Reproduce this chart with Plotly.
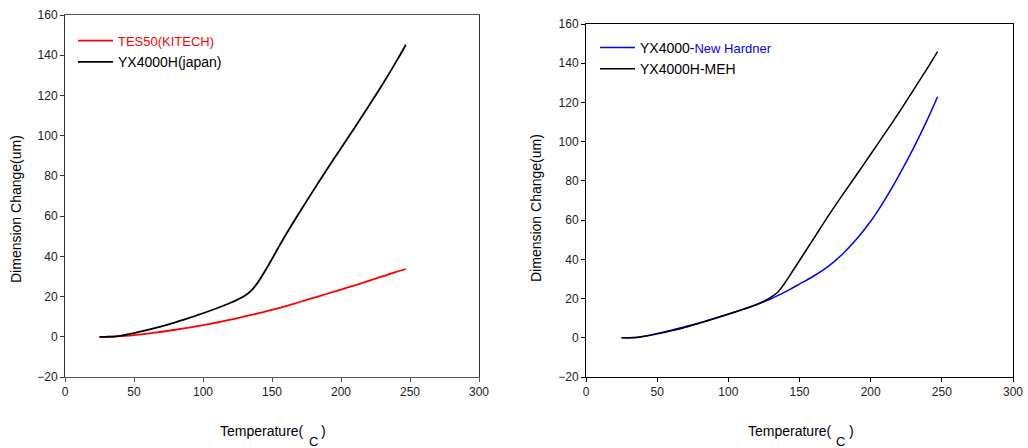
import plotly.graph_objects as go

# ---- data ----
temp_left = [25, 30, 35, 40, 50, 60, 70, 80, 90, 100, 110, 120, 125, 130, 135, 140, 145,
             150, 155, 160, 170, 180, 190, 200, 210, 220, 230, 240, 247]
tes50_kitech = [0, 0, 0.1, 0.3, 0.8, 1.6, 2.5, 3.5, 4.6, 5.8, 7.1, 8.5, 9.3, 10.1, 10.9, 11.7, 12.5,
                13.4, 14.3, 15.2, 17.3, 19.3, 21.4, 23.5, 25.6, 27.8, 30.0, 32.3, 33.7]
yx4000h_japan = [0, 0, 0.1, 0.5, 1.8, 3.4, 5.2, 7.2, 9.4, 11.7, 14.2, 16.9, 18.5, 20.3, 23.0, 27.3, 32.8,
                 38.7, 44.8, 50.7, 61.9, 72.8, 83.4, 93.8, 104.1, 114.6, 125.4, 136.8, 145.2]

temp_right = [25, 30, 35, 40, 50, 60, 70, 80, 90, 100, 110, 120, 125, 130, 135, 140, 145,
              150, 155, 160, 170, 180, 190, 200, 210, 220, 230, 240, 247]
yx4000_new_hardner = [0, 0, 0.1, 0.7, 2.2, 3.9, 5.7, 7.7, 9.9, 12.1, 14.5, 17.0, 18.4, 19.9, 21.6, 23.4, 25.4,
                      27.4, 29.4, 31.5, 36.3, 42.5, 50.2, 59.4, 70.5, 83.0, 96.6, 111.5, 122.9]
yx4000h_meh = [0, 0, 0.1, 0.6, 2.0, 3.6, 5.4, 7.5, 9.7, 12.0, 14.4, 17.0, 18.7, 20.7, 23.5, 28.3, 33.8,
               39.4, 45.0, 50.6, 61.9, 72.6, 83.0, 93.6, 104.2, 115.0, 126.3, 137.6, 145.9]

x_ticks = [0, 50, 100, 150, 200, 250, 300]
y_ticks = [-20, 0, 20, 40, 60, 80, 100, 120, 140, 160]

FONT = "Liberation Sans, Arial, sans-serif"
W, H = 1028, 448

fig = go.Figure()
fig.add_trace(go.Scatter(x=temp_left, y=tes50_kitech, mode="lines",
                         line=dict(color="#ff0000", width=1.8, shape="spline", smoothing=0.8),
                         name='<span style="color:#ff0000;font-size:13px">TES50(KITECH)</span>',
                         xaxis="x", yaxis="y", legend="legend"))
fig.add_trace(go.Scatter(x=temp_left, y=yx4000h_japan, mode="lines",
                         line=dict(color="#000000", width=1.8, shape="spline", smoothing=0.8),
                         name="YX4000H(japan)", xaxis="x", yaxis="y", legend="legend"))
fig.add_trace(go.Scatter(x=temp_right, y=yx4000_new_hardner, mode="lines",
                         line=dict(color="#0000ff", width=1.5, shape="spline", smoothing=0.8),
                         name='YX4000-<span style="color:#0000ff;font-size:13px">New Hardner</span>',
                         xaxis="x2", yaxis="y2", legend="legend2"))
fig.add_trace(go.Scatter(x=temp_right, y=yx4000h_meh, mode="lines",
                         line=dict(color="#000000", width=1.5, shape="spline", smoothing=0.8),
                         name="YX4000H-MEH", xaxis="x2", yaxis="y2", legend="legend2"))

def xax(domain, anchor, lc):
    return dict(domain=domain, anchor=anchor, range=[0, 300], tickvals=x_ticks,
                ticks="outside", ticklen=4, tickcolor=lc, showline=True, linecolor=lc,
                linewidth=1, mirror=True, showgrid=False, zeroline=False, automargin=False,
                tickfont=dict(size=12, color="#222"))

def yax(domain, anchor, lc):
    return dict(domain=domain, anchor=anchor, range=[-20, 160], tickvals=y_ticks,
                ticks="outside", ticklen=4, tickcolor=lc, showline=True, linecolor=lc,
                linewidth=1, mirror=True, showgrid=False, zeroline=False, automargin=False,
                tickfont=dict(size=12, color="#222"))

L = (65, 479, 15, 377)      # left, right, top, bottom in px
R = (586, 1013, 24, 377)

def xd(p):
    return [p[0] / W, p[1] / W]

def yd(p):
    return [1 - p[3] / H, 1 - p[2] / H]

legend_common = dict(font=dict(size=14, color="#000", family=FONT), bgcolor="rgba(0,0,0,0)",
                     borderwidth=0, itemwidth=35, xanchor="left", yanchor="top",
                     tracegroupgap=0)

fig.update_layout(
    width=W, height=H, margin=dict(l=0, r=0, t=0, b=0, autoexpand=False),
    paper_bgcolor="white", plot_bgcolor="white",
    font=dict(family=FONT, size=12, color="#000"),
    xaxis=xax(xd(L), "y", "#555"), yaxis=yax(yd(L), "x", "#333"),
    xaxis2=xax(xd(R), "y2", "#000"), yaxis2=yax(yd(R), "x2", "#000"),
    legend=dict(x=73 / W, y=1 - 25 / H, **legend_common),
    legend2=dict(x=595 / W, y=1 - 32 / H, **legend_common),
    showlegend=True,
)

ann = []
for p in (L, R):
    cx = (p[0] + p[1]) / 2
    ann.append(dict(text="Temperature(", x=(cx + 34) / W, y=1 - 431 / H, xref="paper", yref="paper",
                    showarrow=False, font=dict(size=14, family=FONT), xanchor="right", yanchor="middle"))
    ann.append(dict(text="C", x=(cx + 41) / W, y=1 - 441 / H, xref="paper", yref="paper",
                    showarrow=False, font=dict(size=13, family=FONT), xanchor="center", yanchor="middle"))
    ann.append(dict(text=")", x=(cx + 47) / W, y=1 - 431 / H, xref="paper", yref="paper",
                    showarrow=False, font=dict(size=14, family=FONT), xanchor="left", yanchor="middle"))
ann.append(dict(text="Dimension Change(um)", x=16 / W, y=1 - 209 / H, xref="paper", yref="paper",
                textangle=-90, showarrow=False, font=dict(size=14, family=FONT),
                xanchor="center", yanchor="middle"))
ann.append(dict(text="Dimension Change(um)", x=536 / W, y=1 - 208 / H, xref="paper", yref="paper",
                textangle=-90, showarrow=False, font=dict(size=14, family=FONT),
                xanchor="center", yanchor="middle"))
fig.update_layout(annotations=ann)

fig.write_html("out.html", config={"displayModeBar": False},
               post_script="document.body.style.margin='0';document.body.style.padding='0';"
                           "document.body.style.overflow='hidden';")
